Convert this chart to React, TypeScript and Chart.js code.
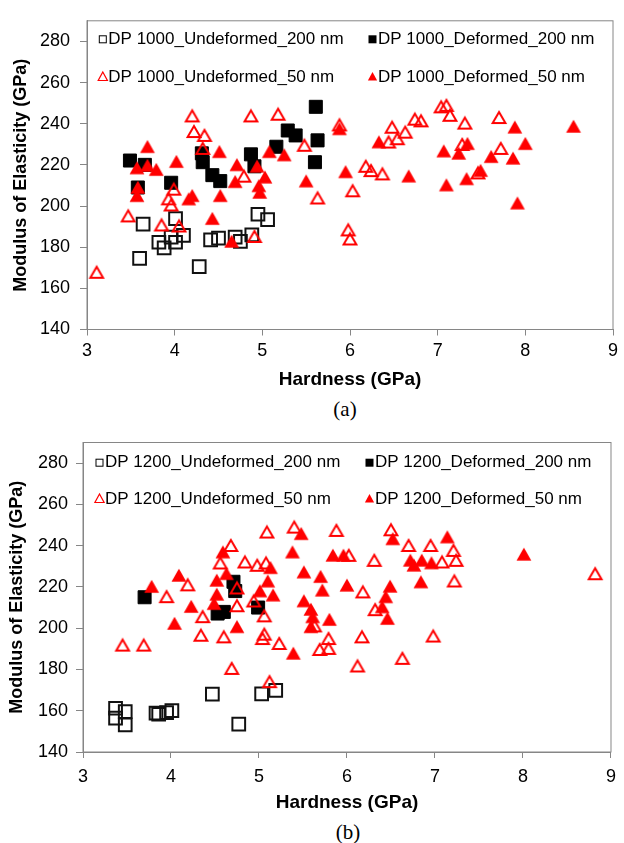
import React, { useEffect, useRef } from 'react';
import { Chart, registerables } from 'chart.js';

Chart.register(...registerables);

// ---------- shared axes ----------
const hardnessTicks = [3, 4, 5, 6, 7, 8, 9];
const modulusTicks = [140, 160, 180, 200, 220, 240, 260, 280];

// ---------- (a) DP 1000 ----------
const labelsA = [
  'DP 1000_Undeformed_200 nm',
  'DP 1000_Deformed_200 nm',
  'DP 1000_Undeformed_50 nm',
  'DP 1000_Deformed_50 nm',
];
const aUndef200H = [3.64, 3.6, 3.82, 3.88, 3.96, 4.01, 4.01, 4.1, 4.28, 4.41, 4.5, 4.69, 4.75, 4.88, 4.95, 5.06];
const aUndef200E = [191.2, 174.6, 182.4, 179.7, 184.9, 182.4, 193.9, 185.7, 170.5, 183.6, 184.4, 184.9, 182.8, 186.0, 196.0, 193.4];
const aDef200H = [3.49, 3.66, 3.58, 3.96, 4.31, 4.32, 4.43, 4.52, 4.87, 4.91, 5.16, 5.29, 5.38, 5.61, 5.63, 5.6];
const aDef200E = [222.1, 220.0, 209.0, 211.3, 225.6, 221.3, 215.0, 212.1, 225.1, 219.3, 228.8, 236.7, 234.3, 248.2, 231.9, 221.3];
const aUndef50H = [3.11, 3.47, 3.85, 3.93, 3.96, 3.99, 4.05, 4.2, 4.22, 4.34, 4.32, 4.79, 4.87, 4.91, 5.18, 5.48, 5.63,
  5.88, 6.18, 6.24, 6.37, 6.03, 5.98, 6.0, 6.48, 6.44, 6.54, 6.63, 6.74, 6.81, 7.04, 7.1, 7.14, 7.31, 7.28, 7.7, 7.72, 7.46];
const aUndef50E = [167.8, 195.2, 190.8, 203.5, 200.5, 208.2, 190.3, 243.8, 236.2, 234.3, 228.0, 214.5, 243.8, 185.2, 244.6, 229.5, 203.9,
  239.4, 219.3, 217.2, 215.6, 207.4, 188.4, 184.0, 238.3, 231.1, 232.7, 235.9, 242.2, 241.4, 248.2, 248.9, 244.1, 240.3, 229.9, 243.0, 228.0, 216.1];
const aDef50H = [3.69, 3.57, 3.69, 3.79, 3.58, 3.57, 4.02, 4.16, 4.2, 4.51, 4.43, 4.52, 4.71, 4.69, 4.65, 4.94, 4.96, 4.97, 5.03, 5.08, 5.25, 5.5,
  5.88, 6.33, 5.95, 6.67, 7.07, 7.24, 7.34, 7.1, 7.33, 7.49, 7.61, 7.86, 7.88, 8.0, 7.91, 8.55];
const aDef50E = [228.8, 218.5, 219.7, 217.7, 209.0, 205.0, 221.6, 203.4, 205.0, 226.4, 193.9, 205.0, 220.0, 211.8, 182.8, 219.3, 209.8, 206.6, 214.0, 226.4, 224.8, 212.1,
  237.5, 231.1, 216.6, 214.5, 226.7, 225.6, 230.3, 210.2, 213.2, 217.2, 224.0, 223.2, 238.3, 230.3, 201.4, 238.7];

// ---------- (b) DP 1200 ----------
const labelsB = [
  'DP 1200_Undeformed_200 nm',
  'DP 1200_Deformed_200 nm',
  'DP 1200_Undeformed_50 nm',
  'DP 1200_Deformed_50 nm',
];
const bUndef200H = [3.37, 3.37, 3.48, 3.48, 3.83, 3.86, 3.95, 4.01, 4.47, 4.77, 5.03, 5.19];
const bUndef200E = [161.2, 156.4, 159.6, 153.2, 158.8, 158.3, 159.1, 160.1, 168.1, 153.5, 168.2, 169.9];
const bDef200H = [3.7, 4.53, 4.6, 4.71, 4.73, 4.99];
const bDef200E = [215.0, 207.1, 207.9, 222.5, 218.0, 210.0];
const bUndef50H = [3.45, 3.69, 3.95, 4.19, 4.34, 4.36, 4.6, 4.69, 4.75, 4.75, 4.94, 5.06, 5.04, 5.06, 5.23, 5.12, 5.63, 5.69,
  4.68, 4.56, 4.84, 4.98, 5.08, 5.09, 5.4,
  5.88, 6.5, 6.7, 6.95, 7.21, 7.24, 7.08, 6.31, 6.02, 6.18, 6.32, 7.22, 5.79, 5.79, 6.17, 6.12, 6.63, 6.98, 8.82];
const bUndef50E = [191.8, 191.8, 215.3, 221.0, 196.6, 205.6, 195.8, 180.5, 219.5, 210.9, 213.2, 206.0, 195.0, 197.1, 192.6, 174.1, 201.1, 189.7,
  240.1, 231.6, 232.1, 230.5, 231.6, 246.6, 249.0,
  247.4, 247.7, 240.1, 240.1, 237.7, 232.9, 232.1, 232.9, 235.3, 217.6, 209.0, 222.9, 195.0, 190.2, 195.8, 181.7, 185.4, 196.2, 226.4];
const bDef50H = [3.78, 4.09, 4.23, 4.04, 4.59, 4.63, 4.52, 4.52, 4.49, 4.75, 5.01, 5.1, 5.13, 5.16, 5.38, 5.48, 5.51, 5.51, 5.59, 5.61, 5.59, 5.39, 5.7, 5.72, 5.8, 5.84,
  6.52, 7.14, 5.96, 6.0, 6.49, 6.44, 6.4, 6.46, 6.72, 6.76, 6.85, 6.96, 6.84, 8.01];
const bDef50E = [220.2, 225.6, 210.5, 202.3, 236.9, 226.4, 223.2, 216.4, 211.9, 200.7, 218.0, 222.8, 229.3, 216.0, 236.9, 245.8, 227.2, 213.2, 209.1, 205.5, 200.7, 187.8, 225.0, 218.4, 204.2, 235.3,
  243.3, 244.2, 235.3, 220.8, 220.3, 215.2, 210.3, 204.7, 232.9, 230.5, 232.9, 231.6, 222.4, 235.8];

const RED = '#ff0000';
const AXIS_GRAY = '#868686';
const SANS = '"Liberation Sans", Arial, sans-serif';

const pts = (h: number[], e: number[]) => h.map((x, i) => ({ x, y: e[i] }));

// Triangle marker images, centred on the data point (like the original spreadsheet markers)
function triangleMarker(filled: boolean): HTMLCanvasElement {
  const c = document.createElement('canvas');
  c.width = 18;
  c.height = 17;
  const ctx = c.getContext('2d') as CanvasRenderingContext2D;
  const cx = 9;
  const cy = 8.5;
  ctx.beginPath();
  if (filled) {
    ctx.moveTo(cx, cy - 6.8);
    ctx.lineTo(cx + 7.4, cy + 6.2);
    ctx.lineTo(cx - 7.4, cy + 6.2);
    ctx.closePath();
    ctx.fillStyle = RED;
    ctx.fill();
  } else {
    ctx.moveTo(cx, cy - 5.6);
    ctx.lineTo(cx + 6.4, cy + 5.6);
    ctx.lineTo(cx - 6.4, cy + 5.6);
    ctx.closePath();
    ctx.strokeStyle = RED;
    ctx.lineWidth = 2;
    ctx.stroke();
  }
  return c;
}

function makeDatasets(labels: string[], s: number[][][], openTri: HTMLCanvasElement, fullTri: HTMLCanvasElement) {
  return [
    { label: labels[0], data: pts(s[0][0], s[0][1]), pointStyle: 'rect', pointRadius: 9, backgroundColor: 'rgba(255,255,255,0)', borderColor: '#111', pointBorderWidth: 2, order: 4 },
    { label: labels[1], data: pts(s[1][0], s[1][1]), pointStyle: 'rect', pointRadius: 9.2, backgroundColor: '#000', borderColor: '#000', pointBorderWidth: 1, order: 3 },
    { label: labels[2], data: pts(s[2][0], s[2][1]), pointStyle: openTri, pointRadius: 8, order: 2 },
    { label: labels[3], data: pts(s[3][0], s[3][1]), pointStyle: fullTri, pointRadius: 8, order: 1 },
  ];
}

function drawLegendMarker(ctx: CanvasRenderingContext2D, i: number, cx: number, cy: number) {
  ctx.save();
  if (i === 0) {
    ctx.strokeStyle = '#000';
    ctx.lineWidth = 1;
    ctx.strokeRect(cx - 3.5, cy - 3.5, 7, 7);
  } else if (i === 1) {
    ctx.fillStyle = '#000';
    ctx.fillRect(cx - 4, cy - 4, 8, 8);
  } else {
    ctx.beginPath();
    ctx.moveTo(cx, cy - 5);
    ctx.lineTo(cx + 4.6, cy + 3.5);
    ctx.lineTo(cx - 4.6, cy + 3.5);
    ctx.closePath();
    if (i === 2) {
      ctx.strokeStyle = RED;
      ctx.lineWidth = 1.2;
      ctx.stroke();
    } else {
      ctx.fillStyle = RED;
      ctx.fill();
    }
  }
  ctx.restore();
}

function makePlugins(labels: string[], textX: number[], rowY: number[]) {
  return [
    {
      id: 'frameBox',
      beforeDatasetsDraw(chart: any) {
        const { ctx, chartArea } = chart;
        ctx.save();
        ctx.strokeStyle = AXIS_GRAY;
        ctx.lineWidth = 1;
        ctx.strokeRect(chartArea.left, chartArea.top, chartArea.right - chartArea.left, chartArea.bottom - chartArea.top);
        ctx.restore();
      },
    },
    {
      id: 'insideLegend',
      afterDatasetsDraw(chart: any) {
        const { ctx, chartArea } = chart;
        ctx.save();
        ctx.font = '17px ' + SANS;
        ctx.textBaseline = 'middle';
        ctx.textAlign = 'left';
        ctx.fillStyle = '#000';
        labels.forEach((label, i) => {
          const col = i % 2;
          const row = Math.floor(i / 2);
          const tx = chartArea.left + textX[col];
          const ty = chartArea.top + rowY[row];
          drawLegendMarker(ctx, i, tx - 5.5, ty);
          ctx.fillText(label, tx, ty);
        });
        ctx.restore();
      },
    },
  ];
}

interface PanelCfg {
  labels: string[];
  series: number[][][];
  height: number;
  padTop: number;
  padRight: number;
  yWidth: number;
  xHeight: number;
  xTickPad: number;
  yTickPad: number;
  yTitlePad: number;
  textX: number[];
  rowY: number[];
}

function Panel({ cfg }: { cfg: PanelCfg }) {
  const ref = useRef<HTMLCanvasElement | null>(null);
  useEffect(() => {
    if (!ref.current) return;
    const openTri = triangleMarker(false);
    const fullTri = triangleMarker(true);
    const chart = new Chart(ref.current, {
      type: 'scatter',
      data: { datasets: makeDatasets(cfg.labels, cfg.series, openTri, fullTri) as any },
      options: {
        animation: false,
        responsive: false,
        maintainAspectRatio: false,
        devicePixelRatio: 1,
        layout: { padding: { top: cfg.padTop, right: cfg.padRight, left: 0, bottom: 0 } },
        plugins: { legend: { display: false }, tooltip: { enabled: false } },
        scales: {
          x: {
            type: 'linear',
            min: 3,
            max: 9,
            afterBuildTicks: (s: any) => { s.ticks = hardnessTicks.map((v) => ({ value: v })); },
            afterFit: (s: any) => { s.height = cfg.xHeight; },
            grid: { display: true, drawOnChartArea: false, drawTicks: true, tickLength: 6, color: AXIS_GRAY },
            border: { display: true, color: AXIS_GRAY, width: 1 },
            ticks: { color: '#000', font: { family: SANS, size: 18 }, padding: cfg.xTickPad, maxRotation: 0 },
            title: { display: true, text: 'Hardness (GPa)', color: '#000', font: { family: SANS, size: 19, weight: 'bold' }, padding: { top: 0, bottom: 4 } },
          },
          y: {
            type: 'linear',
            min: 140,
            max: 290,
            afterBuildTicks: (s: any) => { s.ticks = modulusTicks.map((v) => ({ value: v })); },
            afterFit: (s: any) => { s.width = cfg.yWidth; },
            grid: { display: true, drawOnChartArea: false, drawTicks: true, tickLength: 7, color: AXIS_GRAY },
            border: { display: true, color: AXIS_GRAY, width: 1 },
            ticks: { color: '#000', font: { family: SANS, size: 18 }, padding: cfg.yTickPad },
            title: { display: true, text: 'Modulus of Elasticity (GPa)', color: '#000', font: { family: SANS, size: 18, weight: 'bold' }, padding: { top: cfg.yTitlePad, bottom: 0 } },
          },
        },
      },
      plugins: makePlugins(cfg.labels, cfg.textX, cfg.rowY) as any,
    });
    return () => chart.destroy();
  }, [cfg]);
  return <canvas ref={ref} width={624} height={cfg.height} style={{ display: 'block', width: 624, height: cfg.height }} />;
}

const cfgA: PanelCfg = {
  labels: labelsA,
  series: [[aUndef200H, aUndef200E], [aDef200H, aDef200E], [aUndef50H, aUndef50E], [aDef50H, aDef50E]],
  height: 395,
  padTop: 11.5,
  padRight: 6,
  yWidth: 87,
  xHeight: 65.5,
  xTickPad: 5,
  yTickPad: 10,
  yTitlePad: 10,
  textX: [21.3, 291],
  rowY: [18.5, 56.2],
};

const cfgB: PanelCfg = {
  labels: labelsB,
  series: [[bUndef200H, bUndef200E], [bDef200H, bDef200E], [bUndef50H, bUndef50E], [bDef50H, bDef50E]],
  height: 398,
  padTop: 22.5,
  padRight: 5,
  yWidth: 83,
  xHeight: 66,
  xTickPad: 8,
  yTickPad: 8,
  yTitlePad: 6,
  textX: [22, 292],
  rowY: [20.2, 56.5],
};

const captionStyle: React.CSSProperties = {
  position: 'absolute',
  left: 0,
  width: 690,
  textAlign: 'center',
  fontFamily: '"Liberation Serif", "Times New Roman", serif',
  fontSize: 21,
  lineHeight: '24px',
  color: '#000',
};

export default function App() {
  return (
    <div style={{ position: 'absolute', left: 0, top: 0, width: 624, height: 843, background: '#fff' }}>
      <div style={{ position: 'absolute', left: 0, top: 0 }}>
        <Panel cfg={cfgA} />
      </div>
      <div style={{ ...captionStyle, top: 397 }}>(a)</div>
      <div style={{ position: 'absolute', left: 0, top: 420 }}>
        <Panel cfg={cfgB} />
      </div>
      <div style={{ ...captionStyle, top: 820, width: 696 }}>(b)</div>
    </div>
  );
}
